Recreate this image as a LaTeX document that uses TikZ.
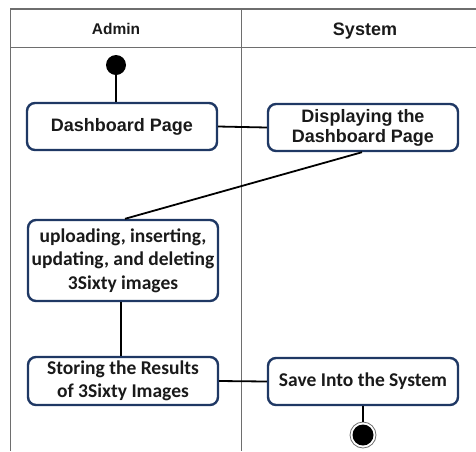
\documentclass[tikz,border=0pt]{standalone}
\usepackage{fontspec}
\setmainfont{Liberation Sans}
\newfontfamily\calibri{Carlito}
\definecolor{boxline}{HTML}{1F3864}
\definecolor{laneline}{HTML}{6E6E6E}
\definecolor{txt}{HTML}{1A1A1A}
\tikzset{
  activity/.style={draw=boxline, line width=2.4pt, rounded corners=8pt, fill=white,
    minimum width=190pt, align=center, text=txt, inner sep=2pt},
  arialtxt/.style={font=\bfseries\fontsize{18}{20}\selectfont},
  calibritxt/.style={font=\calibri\bfseries\fontsize{19.5}{23.5}\selectfont},
  flow/.style={draw=black, line width=1.8pt},
  lane/.style={draw=laneline, line width=1pt},
}
\begin{document}
\begin{tikzpicture}[x=1pt, y=-1pt]
  \useasboundingbox (0,0) rectangle (476,451);

  % swimlanes
  \draw[lane, line width=1.5pt] (10,9) -- (476,9);
  \draw[lane] (10,47) -- (476,47);
  \draw[lane] (10,9) -- (10,451);
  \draw[lane] (241,9) -- (241,451);
  \node[font=\bfseries\fontsize{15.5}{18}\selectfont, text=txt] (hadmin) at (116,29) {Admin};
  \node[font=\bfseries\fontsize{18}{20}\selectfont, text=txt] (hsystem) at (365,31) {System};

  % start node
  \node[circle, fill=black, minimum size=20pt, inner sep=0pt] (start) at (116,65) {};

  % activities
  \node[activity, arialtxt, minimum height=47pt] (dash) at (122,126.5) {Dashboard Page};
  \node[activity, arialtxt, minimum height=47pt] (disp) at (363,127.5) {Displaying the\\Dashboard Page};
  \node[activity, calibritxt, minimum height=81pt] (upl) at (123,260.5) {uploading, inserting,\\updating, and deleting\\3Sixty images};
  \node[activity, calibritxt, minimum height=48pt] (store) at (123,381) {Storing the Results\\of 3Sixty Images};
  \node[activity, calibritxt, minimum height=47pt] (save) at (363,381.5) {Save Into the System};

  % end node
  \node[circle, draw=laneline, line width=0.8pt, fill=white, minimum size=26pt, inner sep=0pt] (endo) at (363,435) {};
  \node[circle, fill=black, minimum size=21pt, inner sep=0pt] (endi) at (endo) {};

  % flows
  \draw[flow] (start) -- (start |- dash.north);
  \draw[flow] (dash.east) -- (disp.west);
  \draw[flow] ([xshift=-1pt]disp.south) -- ([xshift=2pt]upl.north);
  \draw[flow] ([xshift=-2pt]upl.south) -- ([xshift=-2pt]store.north);
  \draw[flow] (store.east) -- (save.west);
  \draw[flow] (save.south) -- (endo.north);
\end{tikzpicture}
\end{document}
